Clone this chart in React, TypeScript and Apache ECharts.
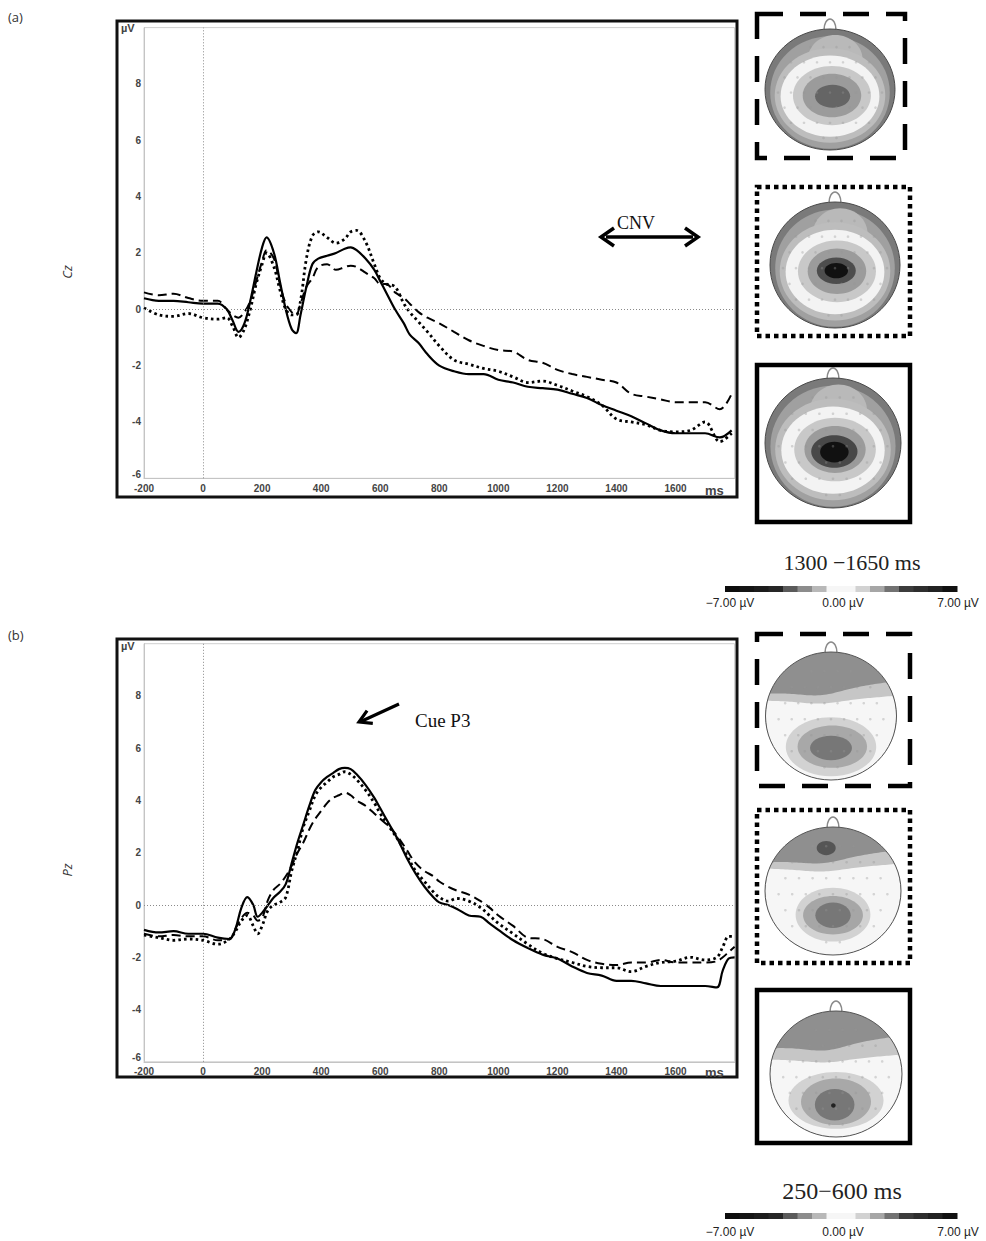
import React, { useEffect, useRef } from "react";
import * as echarts from "echarts";

// ---------- DATA ----------
const timesCz = [-200, -150, -100, -50, 0, 50, 80, 100, 120, 140, 160, 180, 200, 215, 240, 260, 280, 300, 315, 330, 350, 370, 390, 420, 450, 480, 500, 520, 550, 580, 600, 620, 650, 680, 700, 730, 760, 800, 850, 900, 950, 1000, 1050, 1100, 1150, 1200, 1250, 1300, 1350, 1400, 1450, 1500, 1550, 1600, 1650, 1700, 1750, 1790];
const czSolid = [0.39, 0.3, 0.3, 0.25, 0.2, 0.2, 0.0, -0.4, -0.8, -0.5, 0.3, 1.3, 2.2, 2.55, 2.0, 1.0, 0.0, -0.7, -0.85, -0.2, 0.8, 1.6, 1.8, 1.9, 2.0, 2.15, 2.2, 2.1, 1.8, 1.4, 1.0, 0.6, 0.0, -0.5, -0.9, -1.2, -1.6, -2.0, -2.2, -2.3, -2.3, -2.5, -2.6, -2.75, -2.8, -2.85, -3.0, -3.15, -3.4, -3.6, -3.8, -4.05, -4.3, -4.4, -4.4, -4.4, -4.55, -4.3];
const czDashed = [0.6, 0.5, 0.55, 0.4, 0.3, 0.3, 0.0, -0.2, -0.3, -0.1, 0.3, 1.0, 1.7, 2.1, 1.8, 0.9, 0.2, -0.1, -0.2, 0.2, 0.8, 1.1, 1.5, 1.6, 1.4, 1.5, 1.55, 1.5, 1.3, 1.1, 0.9, 0.9, 0.6, 0.4, 0.2, -0.1, -0.3, -0.5, -0.8, -1.1, -1.3, -1.45, -1.5, -1.8, -1.9, -2.15, -2.3, -2.4, -2.5, -2.6, -3.0, -3.1, -3.2, -3.3, -3.3, -3.3, -3.55, -3.0];
const czDotted = [0.05, -0.2, -0.25, -0.15, -0.3, -0.35, -0.3, -0.6, -1.0, -0.7, 0.0, 0.9, 1.6, 2.0, 1.5, 0.7, 0.0, -0.2, -0.2, 0.3, 1.8, 2.6, 2.75, 2.55, 2.35, 2.5, 2.75, 2.8, 2.4, 1.6, 1.1, 0.9, 0.8, 0.2, -0.1, -0.45, -0.8, -1.3, -1.8, -1.95, -2.1, -2.2, -2.4, -2.6, -2.55, -2.7, -2.9, -3.1, -3.4, -3.9, -4.0, -4.1, -4.3, -4.35, -4.3, -4.0, -4.7, -4.4];

const timesPz = [-200, -150, -100, -50, 0, 50, 90, 110, 130, 150, 170, 185, 200, 220, 240, 260, 280, 300, 320, 340, 360, 380, 400, 420, 440, 460, 480, 500, 520, 550, 580, 600, 630, 660, 690, 720, 750, 780, 800, 830, 860, 900, 940, 970, 1000, 1050, 1100, 1150, 1200, 1250, 1300, 1350, 1400, 1450, 1500, 1550, 1600, 1650, 1700, 1740, 1760, 1780, 1800];
const pzSolid = [-0.95, -1.05, -1.0, -1.1, -1.1, -1.25, -1.3, -0.9, -0.1, 0.3, 0.0, -0.45, -0.3, 0.0, 0.3, 0.5, 0.8, 1.6, 2.4, 3.1, 3.8, 4.4, 4.7, 4.9, 5.05, 5.2, 5.25, 5.2, 5.0, 4.6, 4.1, 3.7, 3.1, 2.5, 1.8, 1.2, 0.7, 0.3, 0.1, 0.0, -0.15, -0.4, -0.45, -0.7, -0.95, -1.35, -1.65, -1.9, -2.05, -2.35, -2.6, -2.7, -2.9, -2.9, -3.0, -3.1, -3.1, -3.1, -3.1, -3.15, -2.5, -2.05, -2.0];
const pzDashed = [-1.1, -1.2, -1.15, -1.2, -1.2, -1.35, -1.3, -0.9, -0.5, -0.3, -0.4, -0.6, -0.5, 0.2, 0.6, 0.8, 1.1, 1.5, 2.0, 2.4, 2.9, 3.3, 3.6, 3.9, 4.1, 4.2, 4.3, 4.2, 4.0, 3.8, 3.5, 3.3, 3.0, 2.6, 2.1, 1.6, 1.3, 1.1, 0.9, 0.7, 0.55, 0.4, 0.15, -0.1, -0.4, -0.8, -1.25, -1.3, -1.6, -1.8, -2.1, -2.25, -2.3, -2.2, -2.2, -2.1, -2.2, -2.2, -2.2, -2.15, -2.0, -1.8, -1.6];
const pzDotted = [-1.15, -1.25, -1.35, -1.3, -1.35, -1.5, -1.3, -1.0, -0.6, -0.4, -0.8, -1.1, -0.8, -0.2, 0.0, 0.1, 0.3, 1.3, 2.1, 3.0, 3.6, 4.2, 4.5, 4.7, 4.9, 5.0, 5.1, 5.0, 4.8, 4.4, 3.9, 3.5, 3.0, 2.5, 1.9, 1.3, 0.9, 0.5, 0.3, 0.15, 0.25, 0.15, -0.1, -0.4, -0.7, -1.1, -1.5, -1.85, -2.05, -2.2, -2.35, -2.4, -2.4, -2.55, -2.35, -2.2, -2.15, -2.0, -2.1, -2.0, -1.6, -1.2, -1.2];

const xMin = -200;
const xMax = 1800;
const xStep = 200;
const yMin = -6;
const yMax = 10;
const yStep = 2;

const windowA = "1300 \u22121650 ms";
const windowB = "250\u2212600 ms";
const scaleLabels = ["\u22127.00 \u00b5V", "0.00 \u00b5V", "7.00 \u00b5V"];
const scaleGrays = ["#0d0d0d", "#151515", "#1c1c1c", "#262626", "#5a5a5a", "#8c8c8c", "#b8b8b8", "#f6f6f6", "#f6f6f6", "#d2d2d2", "#a6a6a6", "#727272", "#3c3c3c", "#2e2e2e", "#222222", "#111111"];

// ---------- helpers ----------
const pairs = (ts: number[], vs: number[]) => ts.map((t, i) => [t, vs[i]]);

function ell(cx: number, cy: number, rx: number, ry: number, fill: string) {
  return { type: "ellipse", shape: { cx, cy, rx, ry }, style: { fill, stroke: null }, silent: true };
}

function regionBelow(cx: number, cy: number, rx: number, ry: number, g: (u: number) => number) {
  const top: number[][] = [];
  const bot: number[][] = [];
  const N = 60;
  for (let i = 0; i <= N; i++) {
    const u = -1 + (2 * i) / N;
    const x = cx + u * rx;
    const h = ry * Math.sqrt(Math.max(0, 1 - u * u));
    const yT = cy - h;
    const yB = cy + h;
    const yb = Math.min(yB, Math.max(yT, cy + ry * g(u)));
    top.push([x, yb]);
    bot.push([x, yB]);
  }
  return top.concat(bot.reverse());
}

function nose(cx: number, cy: number, ry: number) {
  return { type: "ellipse", shape: { cx, cy: cy - ry + 1, rx: 6, ry: 11 }, style: { fill: "#fff", stroke: "#8a8a8a", lineWidth: 1.5 }, silent: true };
}

function dots(cx: number, cy: number, rx: number, ry: number) {
  const els: any[] = [];
  for (let j = -3; j <= 3; j++) {
    for (let i = -4; i <= 4; i++) {
      const u = i * 0.2 + (j % 2 ? 0.1 : 0);
      const v = j * 0.25 + 0.05;
      if (u * u + v * v > 0.72) continue;
      els.push({ type: "circle", shape: { cx: cx + u * rx, cy: cy + v * ry, r: 1.3 }, style: { fill: "rgba(150,150,150,0.35)" }, silent: true });
    }
  }
  return els;
}

function topoA(cx: number, cy: number, rx: number, ry: number, layers: any[]) {
  const els: any[] = [nose(cx, cy, ry)];
  layers.forEach((l) => els.push(ell(cx + l[0] * rx, cy + l[1] * ry, l[2] * rx, l[3] * ry, l[4])));
  els.push(...dots(cx, cy, rx, ry));
  els.push({ type: "ellipse", shape: { cx, cy, rx, ry }, style: { fill: "none", stroke: "#4a4a4a", lineWidth: 1 }, silent: true });
  return els;
}

function topoB(cx: number, cy: number, rx: number, ry: number, g1: (u: number) => number, g2: (u: number) => number, layers: any[]) {
  const els: any[] = [nose(cx, cy, ry)];
  els.push(ell(cx, cy, rx, ry, "#8f8f8f"));
  els.push({ type: "polygon", shape: { points: regionBelow(cx, cy, rx, ry, g1) }, style: { fill: "#c6c6c6" }, silent: true });
  els.push({ type: "polygon", shape: { points: regionBelow(cx, cy, rx, ry, g2) }, style: { fill: "#f6f6f6" }, silent: true });
  layers.forEach((l) => els.push(ell(cx + l[0] * rx, cy + l[1] * ry, l[2] * rx, l[3] * ry, l[4])));
  els.push(...dots(cx, cy, rx, ry));
  els.push({ type: "ellipse", shape: { cx, cy, rx, ry }, style: { fill: "none", stroke: "#555", lineWidth: 1 }, silent: true });
  return els;
}

const wave = (base: number, tilt: number, bump: number) => (u: number) =>
  base - tilt * u - 0.03 * u * u + bump * Math.exp(-Math.pow((u + 0.15) / 0.42, 2));

function frame(x: number, y: number, w: number, h: number, dash: any) {
  return { type: "rect", shape: { x, y, width: w, height: h }, style: { fill: "none", stroke: "#000", lineWidth: 4.5, lineDash: dash }, silent: true, z: 5 };
}

function colorbar(x: number, y: number, w: number, h: number, titleX: number, titleY: number, title: string, titleSize: number, labelY: number) {
  const els: any[] = [];
  const sw = w / scaleGrays.length;
  scaleGrays.forEach((c, i) => {
    els.push({ type: "rect", shape: { x: x + i * sw, y, width: sw + 0.5, height: h }, style: { fill: c }, silent: true });
  });
  els.push({ type: "text", x: titleX, y: titleY, style: { text: title, font: `${titleSize}px 'Liberation Serif', 'DejaVu Serif', serif`, fill: "#222", align: "center", verticalAlign: "middle" } });
  const lf = "12px 'Liberation Sans', Arial, sans-serif";
  els.push({ type: "text", x: 730, y: labelY, style: { text: scaleLabels[0], font: lf, fill: "#222", align: "center", verticalAlign: "middle" } });
  els.push({ type: "text", x: 843, y: labelY, style: { text: scaleLabels[1], font: lf, fill: "#222", align: "center", verticalAlign: "middle" } });
  els.push({ type: "text", x: 958, y: labelY, style: { text: scaleLabels[2], font: lf, fill: "#222", align: "center", verticalAlign: "middle" } });
  return els;
}

function arrowHead(hx: number, hy: number, bx: number, by: number, len: number, half: number) {
  const n = Math.hypot(bx, by);
  const ux = bx / n, uy = by / n;
  const px = -uy, py = ux;
  return [
    [hx + len * ux + half * px, hy + len * uy + half * py],
    [hx, hy],
    [hx + len * ux - half * px, hy + len * uy - half * py],
  ];
}

export default function App() {
  const ref = useRef<HTMLDivElement>(null);
  useEffect(() => {
    if (!ref.current) return;
    const chart = echarts.init(ref.current, null, { renderer: "svg" });

    const tickFont = { fontSize: 10, fontWeight: "bold" as const, color: "#444", fontFamily: "'Liberation Sans', Arial, sans-serif" };
    const mkX = (gi: number) => ({
      type: "value", gridIndex: gi, min: xMin, max: xMax, interval: xStep,
      axisLine: { show: true, onZero: false, lineStyle: { color: "#c4c4c4", width: 1 } },
      axisTick: { show: false }, splitLine: { show: false },
      axisLabel: { ...tickFont, margin: 5, showMinLabel: true, showMaxLabel: false, formatter: (v: number) => (v >= xMax ? "" : String(v)) },
    });
    const mkY = (gi: number) => ({
      type: "value", gridIndex: gi, min: yMin, max: yMax, interval: yStep,
      axisLine: { show: true, onZero: false, lineStyle: { color: "#c4c4c4", width: 1 } },
      axisTick: { show: false }, splitLine: { show: false },
      axisLabel: {
        ...tickFont, margin: 3, showMaxLabel: false,
        formatter: (v: number) => (v >= yMax ? "" : v <= yMin ? `{lo|${v}}` : String(v)),
        rich: { lo: { ...tickFont, padding: [0, 0, 8, 0] } },
      },
    });
    const zeroLines = {
      silent: true, symbol: "none", label: { show: false },
      lineStyle: { type: [1, 2], color: "#8a8a8a", width: 1 },
      data: [{ xAxis: 0 }, { yAxis: 0 }],
    };
    const mkSeries = (gi: number, data: number[][], kind: string) => ({
      type: "line", xAxisIndex: gi, yAxisIndex: gi, data, showSymbol: false, symbol: "none", smooth: 0.35,
      lineStyle: kind === "solid" ? { color: "#000", width: 2.2, type: "solid" }
        : kind === "dashed" ? { color: "#000", width: 2, type: [9, 5] }
        : { color: "#000", width: 2.8, type: [2.6, 3.2] },
      markLine: kind === "solid" ? zeroLines : undefined,
      z: kind === "solid" ? 4 : 3,
    });

    const g: any[] = [];
    const lab = "13px 'Open Sans', sans-serif";
    g.push({ type: "text", x: 8, y: 17, style: { text: "(a)", font: lab, fill: "#333", verticalAlign: "middle" } });
    g.push({ type: "text", x: 8, y: 635, style: { text: "(b)", font: lab, fill: "#333", verticalAlign: "middle" } });
    g.push({ type: "text", x: 67, y: 272, rotation: Math.PI / 2, style: { text: "Cz", font: "italic " + lab, fill: "#333", align: "center", verticalAlign: "middle" } });
    g.push({ type: "text", x: 67, y: 870, rotation: Math.PI / 2, style: { text: "Pz", font: "italic " + lab, fill: "#333", align: "center", verticalAlign: "middle" } });
    // panel frames
    g.push({ type: "rect", shape: { x: 117, y: 21, width: 620, height: 476 }, style: { fill: "none", stroke: "#111", lineWidth: 3 }, silent: true });
    g.push({ type: "rect", shape: { x: 117, y: 639, width: 620, height: 438 }, style: { fill: "none", stroke: "#111", lineWidth: 3 }, silent: true });
    // axis unit labels
    const unitFont = "bold 11px 'Liberation Sans', Arial, sans-serif";
    g.push({ type: "text", x: 121, y: 28, style: { text: "\u00b5V", font: unitFont, fill: "#444", verticalAlign: "middle" } });
    g.push({ type: "text", x: 121, y: 646, style: { text: "\u00b5V", font: unitFont, fill: "#444", verticalAlign: "middle" } });
    const msFont = "bold 13px 'Liberation Sans', Arial, sans-serif";
    g.push({ type: "text", x: 705, y: 490, style: { text: "ms", font: msFont, fill: "#444", verticalAlign: "middle" } });
    g.push({ type: "text", x: 705, y: 1072, style: { text: "ms", font: msFont, fill: "#444", verticalAlign: "middle" } });
    // CNV double arrow
    g.push({ type: "line", shape: { x1: 606, y1: 237, x2: 693, y2: 237 }, style: { stroke: "#000", lineWidth: 3.5 }, silent: true });
    g.push({ type: "polyline", shape: { points: [[614, 228], [601, 237], [614, 246]] }, style: { stroke: "#000", lineWidth: 3.5, fill: "none" }, silent: true });
    g.push({ type: "polyline", shape: { points: [[685, 228], [698, 237], [685, 246]] }, style: { stroke: "#000", lineWidth: 3.5, fill: "none" }, silent: true });
    g.push({ type: "text", x: 636, y: 223, style: { text: "CNV", font: "18px 'Liberation Serif', 'DejaVu Serif', serif", fill: "#111", align: "center", verticalAlign: "middle" } });
    // Cue P3 arrow
    g.push({ type: "line", shape: { x1: 399, y1: 704, x2: 362, y2: 721 }, style: { stroke: "#000", lineWidth: 3.2 }, silent: true });
    g.push({ type: "polyline", shape: { points: arrowHead(359, 722, 40, -18, 12, 7) }, style: { stroke: "#000", lineWidth: 3.2, fill: "none" }, silent: true });
    g.push({ type: "text", x: 415, y: 720, style: { text: "Cue P3", font: "19px 'Liberation Serif', 'DejaVu Serif', serif", fill: "#111", verticalAlign: "middle" } });

    // topographic maps panel (a)
    const baseA = [
      [0, 0, 1, 1, "#7a7a7a"],
      [0, 0.05, 0.92, 0.93, "#a0a0a0"],
      [0.08, -0.5, 0.42, 0.4, "#b9b9b9"],
      [0, 0.1, 0.85, 0.78, "#bdbdbd"],
      [0, 0.11, 0.76, 0.67, "#f3f3f3"],
      [0.03, 0.1, 0.6, 0.49, "#c8c8c8"],
      [0.03, 0.1, 0.45, 0.36, "#9b9b9b"],
    ];
    g.push(...topoA(830, 89.5, 65, 60.5, [...baseA, [0.04, 0.11, 0.27, 0.19, "#656565"]]));
    g.push(...topoA(835, 265, 65, 63, [...baseA, [0.02, 0.09, 0.3, 0.21, "#4d4d4d"], [0.02, 0.09, 0.18, 0.12, "#111"]]));
    g.push(...topoA(833, 443, 68, 65, [...baseA, [0.02, 0.13, 0.34, 0.25, "#484848"], [0.02, 0.14, 0.21, 0.16, "#111"]]));
    g.push(frame(757, 14, 148, 144, [26, 17]));
    g.push(frame(757, 187, 153, 149, [4.5, 4]));
    g.push(frame(757, 365, 153, 157, null));

    // topographic maps panel (b)
    g.push(...topoB(831, 716, 65.5, 64, wave(-0.42, 0.1, 0.08), wave(-0.25, 0.04, 0.05), [
      [0, 0.48, 0.69, 0.46, "#d2d2d2"],
      [0.02, 0.48, 0.53, 0.33, "#a8a8a8"],
      [0.0, 0.5, 0.32, 0.19, "#777777"],
    ]));
    g.push(...topoB(833, 891, 68, 64, wave(-0.52, 0.1, 0.07), wave(-0.36, 0.04, 0.05), [
      [-0.1, -0.67, 0.14, 0.11, "#555"],
      [0, 0.37, 0.55, 0.42, "#d2d2d2"],
      [0, 0.38, 0.44, 0.3, "#a6a6a6"],
      [0, 0.38, 0.26, 0.2, "#777777"],
    ]));
    g.push(...topoB(836, 1074, 66, 63, wave(-0.48, 0.1, 0.09), wave(-0.24, 0.04, 0.05), [
      [0, 0.42, 0.72, 0.45, "#d2d2d2"],
      [0, 0.44, 0.53, 0.37, "#a8a8a8"],
      [-0.02, 0.49, 0.3, 0.25, "#777777"],
      [-0.04, 0.5, 0.035, 0.035, "#222"],
    ]));
    g.push(frame(757, 634, 153, 152, [26, 17]));
    g.push(frame(757, 810, 153, 153, [4.5, 4]));
    g.push(frame(757, 990, 153, 153, null));

    // colour scales
    g.push(...colorbar(725, 586, 232, 6, 852, 562, windowA, 22, 603));
    g.push(...colorbar(725, 1213, 232, 6, 842, 1191, windowB, 24, 1232));

    chart.setOption({
      animation: false,
      backgroundColor: "#fff",
      grid: [
        { left: 144, top: 27.6, width: 590.6, height: 450.7, show: true, borderColor: "#cfcfcf", borderWidth: 1, backgroundColor: "transparent" },
        { left: 144, top: 643.7, width: 590.6, height: 418.1, show: true, borderColor: "#cfcfcf", borderWidth: 1, backgroundColor: "transparent" },
      ],
      xAxis: [mkX(0), mkX(1)],
      yAxis: [mkY(0), mkY(1)],
      series: [
        mkSeries(0, pairs(timesCz, czDashed), "dashed"),
        mkSeries(0, pairs(timesCz, czDotted), "dotted"),
        mkSeries(0, pairs(timesCz, czSolid), "solid"),
        mkSeries(1, pairs(timesPz, pzDashed), "dashed"),
        mkSeries(1, pairs(timesPz, pzDotted), "dotted"),
        mkSeries(1, pairs(timesPz, pzSolid), "solid"),
      ],
      graphic: { elements: g },
    });
    return () => chart.dispose();
  }, []);
  return <div ref={ref} style={{ position: "absolute", left: 0, top: 0, width: 986, height: 1241 }} />;
}
